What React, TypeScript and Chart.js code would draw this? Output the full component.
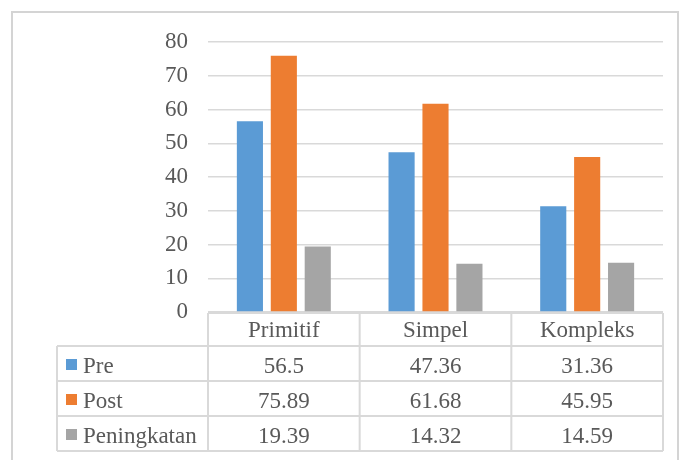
import React, { useEffect, useRef } from "react";
import { Chart, registerables } from "chart.js";

Chart.register(...registerables);

// Categories and series shown in the chart and its data table
const categories = ["Primitif", "Simpel", "Kompleks"];
const seriesNames = ["Pre", "Post", "Peningkatan"];
const preValues = [56.5, 47.36, 31.36];
const postValues = [75.89, 61.68, 45.95];
const gainValues = [19.39, 14.32, 14.59];
const seriesColors = ["#5B9BD5", "#ED7D31", "#A5A5A5"];
const yMin = 0;
const yMax = 80;
const yStep = 10;

const FONT_FAMILY = '"Liberation Serif", "Times New Roman", serif';
const TEXT_COLOR = "#595959";
const LINE_COLOR = "#d9d9d9";

const allSeries = [preValues, postValues, gainValues];

// Draws the data table under the plot, aligned with the category columns
const dataTablePlugin = {
  id: "dataTable",
  afterDraw(chart: any) {
    const { ctx, chartArea, scales } = chart;
    const xScale = scales.x;
    const n = categories.length;
    const colW = (chartArea.right - chartArea.left) / n;
    const edges: number[] = [];
    for (let i = 0; i <= n; i++) edges.push(chartArea.left + i * colW);
    const tableLeft = 57;
    const headerTop = chartArea.bottom + 1;
    const headerH = 33;
    const rowH = 35;
    const rowTops = [headerTop];
    for (let r = 0; r <= seriesNames.length; r++) {
      rowTops.push(headerTop + headerH + r * rowH);
    }
    const bottom = rowTops[rowTops.length - 1];

    ctx.save();
    ctx.strokeStyle = LINE_COLOR;
    ctx.lineWidth = 2;
    ctx.beginPath();
    // horizontal rules
    ctx.moveTo(edges[0], rowTops[0]);
    ctx.lineTo(edges[n], rowTops[0]);
    for (let r = 1; r < rowTops.length; r++) {
      ctx.moveTo(tableLeft, rowTops[r]);
      ctx.lineTo(edges[n], rowTops[r]);
    }
    // vertical rules
    for (let i = 0; i <= n; i++) {
      ctx.moveTo(edges[i], rowTops[0]);
      ctx.lineTo(edges[i], bottom);
    }
    ctx.moveTo(tableLeft, rowTops[1]);
    ctx.lineTo(tableLeft, bottom);
    ctx.stroke();

    ctx.font = `23px ${FONT_FAMILY}`;
    ctx.fillStyle = TEXT_COLOR;
    ctx.textBaseline = "alphabetic";
    ctx.textAlign = "center";
    categories.forEach((c, i) => {
      ctx.fillText(c, xScale.getPixelForValue(i), headerTop + 24);
    });

    seriesNames.forEach((name, r) => {
      const top = rowTops[r + 1];
      ctx.fillStyle = seriesColors[r];
      ctx.fillRect(66, top + 13, 11, 11);
      ctx.fillStyle = TEXT_COLOR;
      ctx.textAlign = "left";
      ctx.fillText(name, 83, top + 26.5);
      ctx.textAlign = "center";
      allSeries[r].forEach((v, i) => {
        ctx.fillText(String(v), xScale.getPixelForValue(i), top + 26.5);
      });
    });
    ctx.restore();
  },
};

export default function App() {
  const canvasRef = useRef<HTMLCanvasElement | null>(null);

  useEffect(() => {
    if (!canvasRef.current) return;
    const chart = new Chart(canvasRef.current, {
      type: "bar",
      data: {
        labels: categories,
        datasets: seriesNames.map((name, i) => ({
          label: name,
          data: allSeries[i],
          backgroundColor: seriesColors[i],
          borderWidth: 0,
          categoryPercentage: 0.671,
          barPercentage: 0.77,
        })),
      },
      options: {
        animation: false,
        responsive: false,
        devicePixelRatio: 1,
        layout: { padding: { left: 0, top: 42, right: 16, bottom: 148 } },
        plugins: {
          legend: { display: false },
          tooltip: { enabled: false },
        },
        scales: {
          x: { display: false },
          y: {
            min: yMin,
            max: yMax,
            afterFit: (axis: any) => {
              axis.width = 208;
            },
            border: { display: false },
            grid: { color: LINE_COLOR, lineWidth: 1.5, drawTicks: false },
            ticks: {
              stepSize: yStep,
              padding: 20,
              color: TEXT_COLOR,
              font: { family: FONT_FAMILY, size: 23 },
            },
          },
        },
      },
      plugins: [dataTablePlugin],
    });
    return () => chart.destroy();
  }, []);

  return (
    <div
      style={{
        position: "fixed",
        left: 0,
        top: 0,
        width: 679,
        height: 460,
        overflow: "hidden",
        background: "#ffffff",
      }}
    >
      <canvas
        ref={canvasRef}
        width={679}
        height={460}
        style={{ position: "absolute", left: 0, top: 0 }}
      />
      <div
        style={{
          position: "absolute",
          left: 11,
          top: 11,
          width: 668,
          height: 470,
          boxSizing: "border-box",
          border: "2px solid #d4d4d4",
          pointerEvents: "none",
        }}
      />
    </div>
  );
}
